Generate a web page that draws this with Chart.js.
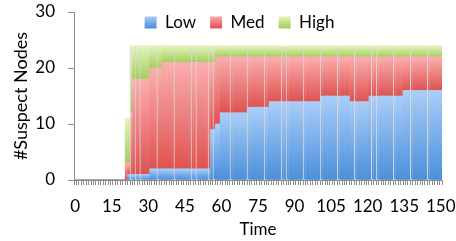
<!DOCTYPE html>
<html>
<head>
<meta charset="utf-8">
<script src="https://cdn.jsdelivr.net/npm/chart.js@4.4.1/dist/chart.umd.min.js"></script>
<style>
  html, body { margin: 0; padding: 0; background: #fff; }
  #wrap { width: 456px; height: 241px; }
</style>
</head>
<body>
<div id="wrap"><canvas id="chart"></canvas></div>
<script>
// time steps (one bar per step)
const times = [
  0, 1, 2, 3, 4, 5, 6, 7, 8, 9, 10, 11, 12, 13, 14, 15, 16, 17, 18, 19,
  20, 21, 22, 23, 24, 25, 26, 27, 28, 29, 30, 31, 32, 33, 34, 35, 36, 37, 38, 39,
  40, 41, 42, 43, 44, 45, 46, 47, 48, 49, 50, 51, 52, 53, 54, 55, 56, 57, 58, 59,
  60, 61, 62, 63, 64, 65, 66, 67, 68, 69, 70, 71, 72, 73, 74, 75, 76, 77, 78, 79,
  80, 81, 82, 83, 84, 85, 86, 87, 88, 89, 90, 91, 92, 93, 94, 95, 96, 97, 98, 99,
  100, 101, 102, 103, 104, 105, 106, 107, 108, 109, 110, 111, 112, 113, 114, 115, 116, 117, 118, 119,
  120, 121, 122, 123, 124, 125, 126, 127, 128, 129, 130, 131, 132, 133, 134, 135, 136, 137, 138, 139,
  140, 141, 142, 143, 144, 145, 146, 147, 148, 149, 150
];

const tickLabels = ['0', '15', '30', '45', '60', '75', '90', '105', '120', '135', '150'];

const lowNodes = [
  0, 0, 0, 0, 0, 0, 0, 0, 0, 0, 0, 0, 0, 0, 0, 0, 0, 0, 0, 0,
  0, 0, 1, 1, 1, 1, 1, 1, 1, 1, 1, 2, 2, 2, 2, 2, 2, 2, 2, 2,
  2, 2, 2, 2, 2, 2, 2, 2, 2, 2, 2, 2, 2, 2, 2, 2, 9, 9, 10, 10,
  12, 12, 12, 12, 12, 12, 12, 12, 12, 12, 12, 13, 13, 13, 13, 13, 13, 13, 13, 13,
  14, 14, 14, 14, 14, 14, 14, 14, 14, 14, 14, 14, 14, 14, 14, 14, 14, 14, 14, 14,
  14, 15, 15, 15, 15, 15, 15, 15, 15, 15, 15, 15, 15, 14, 14, 14, 14, 14, 14, 14,
  14, 15, 15, 15, 15, 15, 15, 15, 15, 15, 15, 15, 15, 15, 15, 16, 16, 16, 16, 16,
  16, 16, 16, 16, 16, 16, 16, 16, 16, 16, 16
];

const medNodes = [
  0, 0, 0, 0, 0, 0, 0, 0, 0, 0, 0, 0, 0, 0, 0, 0, 0, 0, 0, 0,
  0, 3, 2, 11, 17, 17, 17, 17, 17, 17, 17, 18, 18, 18, 18, 18, 19, 19, 19, 19,
  19, 19, 19, 19, 19, 19, 19, 19, 19, 19, 19, 19, 19, 19, 19, 19, 12, 12, 12, 12,
  10, 10, 10, 10, 10, 10, 10, 10, 10, 10, 10, 9, 9, 9, 9, 9, 9, 9, 9, 9,
  8, 8, 8, 8, 8, 8, 8, 8, 8, 8, 8, 8, 8, 8, 8, 8, 8, 8, 8, 8,
  8, 7, 7, 7, 7, 7, 7, 7, 7, 7, 7, 7, 7, 8, 8, 8, 8, 8, 8, 8,
  8, 7, 7, 7, 7, 7, 7, 7, 7, 7, 7, 7, 7, 7, 7, 6, 6, 6, 6, 6,
  6, 6, 6, 6, 6, 6, 6, 6, 6, 6, 6
];

const highNodes = [
  0, 0, 0, 0, 0, 0, 0, 0, 0, 0, 0, 0, 0, 0, 0, 0, 0, 0, 0, 0,
  0, 8, 8, 12, 6, 6, 6, 6, 6, 6, 6, 4, 4, 4, 4, 4, 3, 3, 3, 3,
  3, 3, 3, 3, 3, 3, 3, 3, 3, 3, 3, 3, 3, 3, 3, 3, 3, 3, 2, 2,
  2, 2, 2, 2, 2, 2, 2, 2, 2, 2, 2, 2, 2, 2, 2, 2, 2, 2, 2, 2,
  2, 2, 2, 2, 2, 2, 2, 2, 2, 2, 2, 2, 2, 2, 2, 2, 2, 2, 2, 2,
  2, 2, 2, 2, 2, 2, 2, 2, 2, 2, 2, 2, 2, 2, 2, 2, 2, 2, 2, 2,
  2, 2, 2, 2, 2, 2, 2, 2, 2, 2, 2, 2, 2, 2, 2, 2, 2, 2, 2, 2,
  2, 2, 2, 2, 2, 2, 2, 2, 2, 2, 2
];

// bars that show a thin light seam on their left edge in the original
const seamBars = [23, 25, 27, 34, 41, 48, 50, 55, 57, 64, 71, 78, 85, 87, 94, 101, 108, 115, 122, 124, 131, 138, 145];

const FONT = 'Lato, "Open Sans", sans-serif';
const AXIS_GREY = '#8c8c8c';

const palette = [
    { light: '#aacdf8', dark: '#4a8fdb' },
    { light: '#fbaeae', dark: '#de5250' },
    { light: '#e4f5bd', dark: '#a3cd5c' }
];

// vertical gradient per stacked segment, light at top, dark at bottom
function segmentFill(light, dark) {
    return function(ctx) {
        const chart = ctx.chart;
        if (!chart.chartArea || ctx.type !== 'data') return dark;
        let base = 0;
        for (let d = 0; d < ctx.datasetIndex; d++) {
            base += chart.data.datasets[d].data[ctx.dataIndex];
        }
        const y0 = chart.scales.y.getPixelForValue(base);
        const y1 = chart.scales.y.getPixelForValue(base + ctx.raw);
        if (Math.abs(y0 - y1) < 0.5) return dark;
        const g = chart.ctx.createLinearGradient(0, y1, 0, y0);
        g.addColorStop(0, light);
        g.addColorStop(1, dark);
        return g;
    };
}

function seamWidth(ctx) {
    return seamBars.includes(ctx.dataIndex) ? { left: 1, right: 0, top: 0, bottom: 0 } : 0;
}

// legend sits over the top of the plot like in Excel, so it takes no layout height
const overlayLegend = {
    id: 'overlayLegend',
    beforeLayout(chart) {
        const lg = chart.legend;
        if (lg && !lg._patched) {
            const fit = lg.fit;
            lg.fit = function() { fit.call(this); this._realHeight = this.height; this.height = 0; };
            lg._patched = true;
        }
    },
    afterLayout(chart) {
        const lg = chart.legend;
        if (lg && lg._realHeight) {
            lg.top = 0;
            lg.height = lg._realHeight;
            lg.bottom = lg.top + lg._realHeight;
            lg.left += 3;
            lg.right += 3;
        }
    }
};

new Chart(document.getElementById('chart'), {
    type: 'bar',
    data: {
        labels: times,
        datasets: [
            { label: 'Low', data: lowNodes, backgroundColor: segmentFill(palette[0].light, palette[0].dark), borderColor: '#d9d9d9', borderWidth: seamWidth },
            { label: 'Med', data: medNodes, backgroundColor: segmentFill(palette[1].light, palette[1].dark), borderColor: '#d9d9d9', borderWidth: seamWidth },
            { label: 'High', data: highNodes, backgroundColor: segmentFill(palette[2].light, palette[2].dark), borderColor: '#d9d9d9', borderWidth: seamWidth }
        ]
    },
    options: {
        responsive: true,
        maintainAspectRatio: false,
        animation: false,
        layout: { padding: { left: 17, right: 0, top: 0, bottom: 0 } },
        datasets: { bar: { categoryPercentage: 1, barPercentage: 1 } },
        plugins: {
            tooltip: { enabled: false },
            legend: {
                position: 'top',
                labels: {
                    font: { family: FONT, size: 17 },
                    color: '#000',
                    boxWidth: 12,
                    boxHeight: 12,
                    padding: 14,
                    generateLabels(chart) {
                        return chart.data.datasets.map((ds, i) => {
                            const g = chart.ctx.createLinearGradient(0, 16, 0, 28);
                            g.addColorStop(0, palette[i].light);
                            g.addColorStop(1, palette[i].dark);
                            return {
                                text: ds.label,
                                fillStyle: g,
                                strokeStyle: 'rgba(0,0,0,0)',
                                lineWidth: 0,
                                datasetIndex: i,
                                hidden: false
                            };
                        });
                    }
                }
            }
        },
        scales: {
            x: {
                stacked: true,
                afterFit(scale) { scale.height = 61; scale.paddingRight = 14; },
                border: { color: AXIS_GREY, width: 1 },
                grid: { drawOnChartArea: false, color: AXIS_GREY, tickLength: 5 },
                ticks: {
                    autoSkip: false,
                    maxRotation: 0,
                    padding: 11,
                    color: '#000',
                    font: { family: FONT, size: 17 },
                    callback(value, i) {
                        const t = String(times[i]);
                        return tickLabels.includes(t) ? t : '';
                    }
                },
                title: {
                    display: true,
                    text: 'Time',
                    color: '#000',
                    font: { family: FONT, size: 17 },
                    padding: { top: 0, bottom: 1 }
                }
            },
            y: {
                stacked: true,
                min: 0,
                max: 30,
                afterFit(scale) { scale.width = 57; scale.paddingTop = 12; },
                border: { color: AXIS_GREY, width: 1 },
                grid: { drawOnChartArea: false, color: AXIS_GREY, tickLength: 6 },
                ticks: {
                    stepSize: 10,
                    padding: 13,
                    color: '#000',
                    font: { family: FONT, size: 17 }
                },
                title: {
                    display: true,
                    text: '#Suspect Nodes',
                    color: '#000',
                    font: { family: FONT, size: 18 },
                    padding: { top: -7, bottom: 0 }
                }
            }
        }
    },
    plugins: [overlayLegend]
});
</script>
</body>
</html>
